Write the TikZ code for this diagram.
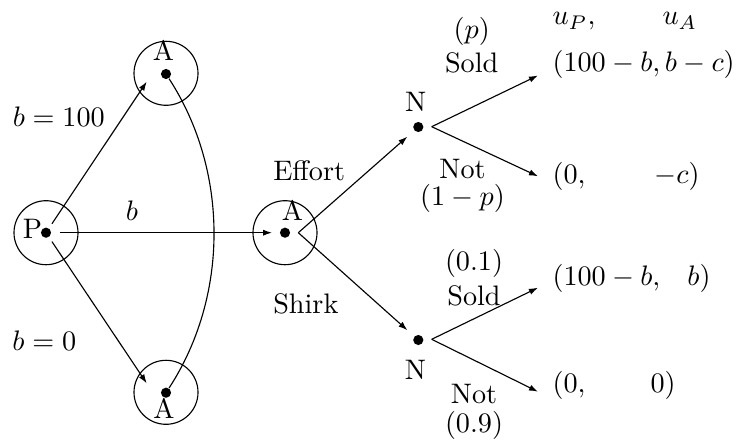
\documentclass[tikz,border=0pt]{standalone}
\usetikzlibrary{arrows.meta}
\begin{document}
\begin{tikzpicture}[x=0.3546pt,y=-0.3546pt,
  dot/.style={circle,fill,inner sep=0pt,minimum size=3.6pt},
  ring/.style={circle,draw,inner sep=0pt,minimum size=22.7pt},
  lbl/.style={inner sep=0pt,anchor=base},
  lblw/.style={inner sep=0pt,anchor=base west},
  arr/.style={-{Latex[length=3.2pt,width=2.2pt]}}]
\useasboundingbox (0,0) rectangle (740,440);
% decision / chance nodes
\node[dot] (P)  at (46,232.7) {};
\node[dot] (tA) at (166,74) {};
\node[dot] (bA) at (166,392.7) {};
\node[dot] (mA) at (285,232.7) {};
\node[dot] (tN) at (418.3,127) {};
\node[dot] (bN) at (418.3,340) {};
% information rings
\node[ring] (Pr)  at (P)  {};
\node[ring] (tAr) at (166,73.3) {};
\node[ring] (bAr) at (166,392.3) {};
\node[ring] (mAr) at (mA) {};
% branch vertices and free ends
\coordinate (mAv) at (298.3,232.7);
\coordinate (tNv) at (431.7,126.7);
\coordinate (bNv) at (431.7,339.3);
\coordinate (e1) at (146.7,81.7);
\coordinate (e2) at (146.7,383.3);
\coordinate (o1) at (538,75.5);
\coordinate (o2) at (538,176.3);
\coordinate (o3) at (538,287.7);
\coordinate (o4) at (538,391.7);
% player labels
\node[lbl] (Pl)  at (32.5,238) {P};
\node[lbl] (tAl) at (163.5,61) {A};
\node[lbl] (bAl) at (164,418) {A};
\node[lbl] (mAl) at (292.5,220) {A};
\node[lbl] (tNl) at (415.8,112) {N};
\node[lbl] (bNl) at (415.5,379) {N};
% action labels
\node[lbl] (b100) at (58.8,127) {$b=100$};
\node[lbl] (b0)   at (44.3,350) {$b=0$};
\node[lbl] (bl)   at (132,220) {$b$};
\node[lblw] (eff) at (272.7,180) {Effort};
\node[lblw] (shk) at (272.7,313) {Shirk};
\node[lbl] (pp)   at (471.7,39) {$(p)$};
\node[lbl] (s1)   at (471.7,73) {Sold};
\node[lbl] (n1)   at (462.5,178) {Not};
\node[lbl] (q1)   at (462.5,205) {$(1-p)$};
\node[lbl] (pp2)  at (474,270) {$(0.1)$};
\node[lbl] (s2)   at (474,305) {Sold};
\node[lbl] (n2)   at (474,403) {Not};
\node[lbl] (q2)   at (474,432) {$(0.9)$};
% payoffs
\node[lblw] (hP) at (552,25) {$u_P,$};
\node[lblw] (hA) at (662,25) {$u_A$};
\node[lblw] (y1) at (552,72) {$(100-b, b-c)$};
\node[lblw] (y2) at (552,183) {$(0,\hspace{22.8pt}-c)$};
\node[lblw] (y3) at (552,285) {$(100-b,\hspace{8pt}b)$};
\node[lblw] (y4) at (552,392) {$(0,\hspace{21.4pt}0)$};
% connectors
\draw[arr,shorten <=1.8pt] (P) -- (e1);
\draw[arr,shorten <=1.8pt] (P) -- (e2);
\draw[arr,shorten <=3pt,shorten >=2.6pt] (P) -- (mA);
\draw (tA) .. controls (229,171) and (229,296) .. (bA);
\draw[arr,shorten >=3.2pt] (mAv) -- (tN);
\draw[arr,shorten >=3.2pt] (mAv) -- (bN);
\draw[arr] (tNv) -- (o1);
\draw[arr] (tNv) -- (o2);
\draw[arr] (bNv) -- (o3);
\draw[arr] (bNv) -- (o4);
\end{tikzpicture}
\end{document}
